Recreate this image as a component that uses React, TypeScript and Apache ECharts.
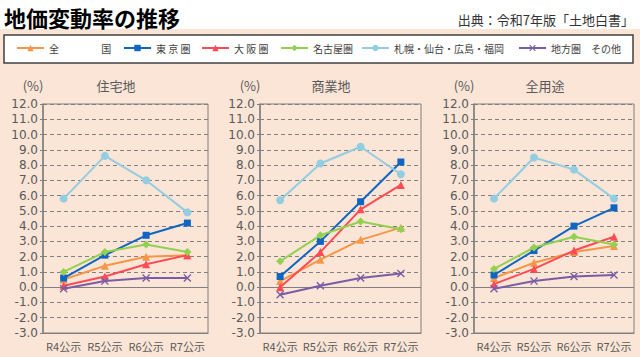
import React, { useEffect, useRef } from "react";
import * as echarts from "echarts";

// ---- data ----
const categories = ["R4公示", "R5公示", "R6公示", "R7公示"];
const yTicks = { min: -3, max: 12, step: 1 };

const seriesNames = [
  "全　　　　 国",
  "東 京 圏",
  "大 阪 圏",
  "名古屋圏",
  "札幌・仙台・広島・福岡",
  "地方圏　その他",
];

// 住宅地
const resNational = [0.5, 1.4, 2.0, 2.1];
const resTokyo = [0.6, 2.1, 3.4, 4.2];
const resOsaka = [0.1, 0.7, 1.5, 2.1];
const resNagoya = [1.0, 2.3, 2.8, 2.3];
const resFourCities = [5.8, 8.6, 7.0, 4.9];
const resOther = [-0.1, 0.4, 0.6, 0.6];

// 商業地
const comNational = [0.4, 1.8, 3.1, 3.9];
const comTokyo = [0.7, 3.0, 5.6, 8.2];
const comOsaka = [0.0, 2.3, 5.1, 6.7];
const comNagoya = [1.7, 3.4, 4.3, 3.8];
const comFourCities = [5.7, 8.1, 9.2, 7.4];
const comOther = [-0.5, 0.1, 0.6, 0.9];

// 全用途
const allNational = [0.6, 1.6, 2.3, 2.7];
const allTokyo = [0.8, 2.4, 4.0, 5.2];
const allOsaka = [0.2, 1.2, 2.4, 3.3];
const allNagoya = [1.2, 2.6, 3.3, 2.8];
const allFourCities = [5.8, 8.5, 7.7, 5.8];
const allOther = [-0.1, 0.4, 0.7, 0.8];

const panelTitles = ["住宅地", "商業地", "全用途"];
const panelData = [
  [resNational, resTokyo, resOsaka, resNagoya, resFourCities, resOther],
  [comNational, comTokyo, comOsaka, comNagoya, comFourCities, comOther],
  [allNational, allTokyo, allOsaka, allNagoya, allFourCities, allOther],
];

// ---- styles / layout ----
const FONT = "'Noto Sans CJK JP', 'Noto Sans', sans-serif";
const NUM_FONT = "'DejaVu Sans', Roboto, sans-serif";
const X_MARK =
  "path://M0,1.2L1.2,0L5,3.8L8.8,0L10,1.2L6.2,5L10,8.8L8.8,10L5,6.2L1.2,10L0,8.8L3.8,5Z";
const seriesStyles = [
  { color: "#F79646", symbol: "triangle", size: 8 },
  { color: "#0F65C2", symbol: "rect", size: 7 },
  { color: "#FF4B55", symbol: "triangle", size: 8 },
  { color: "#92D050", symbol: "diamond", size: 8 },
  { color: "#92CDE2", symbol: "circle", size: 8 },
  { color: "#7A5CA6", symbol: X_MARK, size: 8 },
];
const grids = [
  { left: 43, top: 104, width: 165, height: 229 },
  { left: 260, top: 104, width: 161, height: 229 },
  { left: 474, top: 104, width: 160, height: 229 },
];
const titlePos = [
  { title: 116, unit: 33 },
  { title: 331, unit: 250 },
  { title: 545, unit: 464 },
];
const legendLeft = [16, 123, 201, 280, 361, 518];

const AXIS_GREY = "#808080";
const LABEL_GREY = "#595959";

function buildOption() {
  const series: any[] = [];
  panelData.forEach((panel, gi) => {
    panel.forEach((values, si) => {
      const st = seriesStyles[si];
      const s: any = {
        type: "line",
        name: seriesNames[si],
        xAxisIndex: gi,
        yAxisIndex: gi,
        data: values,
        symbol: st.symbol,
        symbolSize: st.size,
        color: st.color,
        itemStyle: { color: st.color },
        lineStyle: { color: st.color, width: 2 },
        z: 3 + si,
      };
      if (si === 0) {
        s.markLine = {
          silent: true,
          symbol: "none",
          label: { show: false },
          lineStyle: { color: AXIS_GREY, type: "solid", width: 1 },
          data: [{ yAxis: 0 }],
          z: 2,
        };
      }
      series.push(s);
    });
  });

  const graphic: any[] = [
    {
      type: "rect",
      shape: { x: 0, y: 29, width: 640, height: 328 },
      style: { fill: "#FBE5D6" },
      z: -10,
    },
    {
      type: "rect",
      shape: { x: 4, y: 35, width: 629, height: 28 },
      style: { fill: "#FFFFFF", stroke: "#404040", lineWidth: 1.5 },
      z: -5,
    },
    {
      type: "text",
      x: 4,
      y: 17,
      style: {
        text: "地価変動率の推移",
        fontSize: 22,
        fontWeight: "bold",
        fontFamily: FONT,
        fill: "#000000",
        align: "left",
        verticalAlign: "middle",
      },
    },
    {
      type: "text",
      x: 634,
      y: 19,
      style: {
        text: "出典：令和7年版「土地白書」",
        fontSize: 13,
        fontFamily: FONT,
        fill: "#333333",
        align: "right",
        verticalAlign: "middle",
      },
    },
  ];
  panelTitles.forEach((t, i) => {
    graphic.push({
      type: "text",
      x: titlePos[i].title,
      y: 85,
      style: {
        text: t,
        fontSize: 13,
        fontFamily: FONT,
        fill: LABEL_GREY,
        align: "center",
        verticalAlign: "middle",
      },
    });
    graphic.push({
      type: "text",
      x: titlePos[i].unit,
      y: 85,
      style: {
        text: "(%)",
        fontSize: 13,
        fontFamily: FONT,
        fill: LABEL_GREY,
        align: "center",
        verticalAlign: "middle",
      },
    });
  });

  const legend = seriesNames.map((n, i) => ({
    data: [n],
    left: legendLeft[i],
    top: 43,
    padding: 0,
    itemWidth: 27,
    itemHeight: 8,
    selectedMode: false,
    textStyle: { color: "#404040", fontSize: 10, fontFamily: FONT },
  }));

  return {
    animation: false,
    backgroundColor: "#FFFFFF",
    textStyle: { fontFamily: FONT },
    grid: grids.map((g) => ({
      ...g,
      show: true,
      borderColor: AXIS_GREY,
      borderWidth: 1,
      backgroundColor: "transparent",
      containLabel: false,
    })),
    legend,
    graphic,
    xAxis: grids.map((_, i) => ({
      type: "category",
      gridIndex: i,
      data: categories,
      boundaryGap: true,
      axisLine: { show: true, onZero: false, lineStyle: { color: AXIS_GREY, width: 1 } },
      axisTick: { show: false },
      axisLabel: { color: LABEL_GREY, fontSize: 11, margin: 7, interval: 0 },
      splitLine: { show: false },
    })),
    yAxis: grids.map((_, i) => ({
      type: "value",
      gridIndex: i,
      min: yTicks.min,
      max: yTicks.max,
      interval: yTicks.step,
      axisLine: { show: true, lineStyle: { color: AXIS_GREY, width: 1.5 } },
      axisTick: { show: true, length: 3, lineStyle: { color: AXIS_GREY } },
      axisLabel: {
        color: LABEL_GREY,
        fontSize: 12,
        fontFamily: NUM_FONT,
        lineHeight: 13,
        margin: 5,
        formatter: (v: number) => v.toFixed(1),
      },
      splitLine: {
        show: true,
        lineStyle: { color: AXIS_GREY, type: [4, 3], width: 1 },
      },
    })),
    series,
  };
}

export default function App() {
  const ref = useRef<HTMLDivElement>(null);
  useEffect(() => {
    document.body.style.margin = "0";
    if (!ref.current) return;
    const chart = echarts.init(ref.current, null, { renderer: "svg" });
    chart.setOption(buildOption() as any);
    return () => {
      chart.dispose();
    };
  }, []);
  return <div ref={ref} style={{ width: 640, height: 357 }} />;
}
